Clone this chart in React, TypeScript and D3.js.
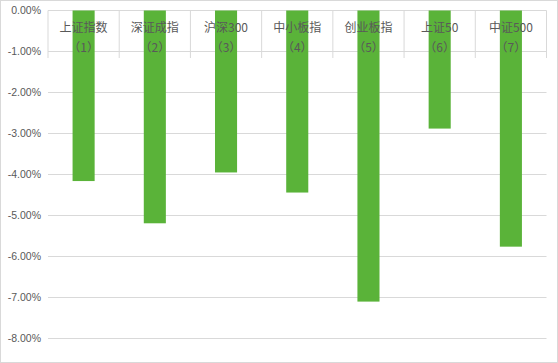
import React from "react";
import * as d3 from "d3";

const categories = ["上证指数", "深证成指", "沪深300", "中小板指", "创业板指", "上证50", "中证500"];
const subLabels = ["（1）", "（2）", "（3）", "（4）", "（5）", "（6）", "（7）"];
const values = [-4.16, -5.19, -3.95, -4.44, -7.1, -2.88, -5.76];
const yTicks = [0, -1, -2, -3, -4, -5, -6, -7, -8];

const W = 558;
const H = 363;
const margin = { left: 48, right: 11.5, top: 10.5, bottom: 24.5 };

export default function App() {
  const x = d3
    .scaleBand<string>()
    .domain(categories)
    .range([margin.left, W - margin.right])
    .paddingInner(0.69)
    .paddingOuter(0.345);
  const band = d3.scaleBand<string>().domain(categories).range([margin.left, W - margin.right]);
  const y = d3.scaleLinear().domain([0, -8]).range([margin.top, H - margin.bottom]);
  const grid = "#d9d9d9";
  const text = "#595959";
  const boundaries = d3.range(categories.length + 1).map((i) => margin.left + i * band.step());
  return (
    <svg
      width={W}
      height={H}
      style={{ position: "absolute", left: 0, top: 0, background: "#fff" }}
    >
      <rect x={0.5} y={0.5} width={W - 1} height={H - 1} fill="#fff" stroke={grid} />
      {yTicks.map((t) => (
        <g key={t}>
          <line x1={margin.left} x2={W - margin.right} y1={y(t)} y2={y(t)} stroke={grid} strokeWidth={1} />
          <text
            x={41}
            y={y(t)}
            dy="0.35em"
            textAnchor="end"
            fontFamily="'Liberation Sans', Arial, sans-serif"
            fontSize={10.5}
            fill={text}
          >
            {t.toFixed(2) === "0.00" ? "0.00%" : t.toFixed(2) + "%"}
          </text>
        </g>
      ))}
      {categories.map((c, i) => (
        <rect
          key={c}
          x={x(c)}
          width={x.bandwidth()}
          y={y(0)}
          height={y(values[i]) - y(0)}
          fill="#5ab339"
        />
      ))}
      {boundaries.map((bx, i) => (
        <line key={i} x1={bx} x2={bx} y1={y(0)} y2={58} stroke={grid} strokeWidth={1} />
      ))}
      {categories.map((c, i) => {
        const cx = (band(c) as number) + band.bandwidth() / 2;
        return (
          <g key={"l" + c}>
            <text
              x={cx}
              y={31.5}
              textAnchor="middle"
              fontFamily="'Noto Sans CJK SC', sans-serif"
              fontSize={12}
              fill={text}
            >
              {c}
            </text>
            <text
              x={cx}
              y={51.5}
              textAnchor="middle"
              fontFamily="'Noto Sans CJK SC', sans-serif"
              fontSize={12}
              fill={text}
            >
              {subLabels[i]}
            </text>
          </g>
        );
      })}
    </svg>
  );
}
